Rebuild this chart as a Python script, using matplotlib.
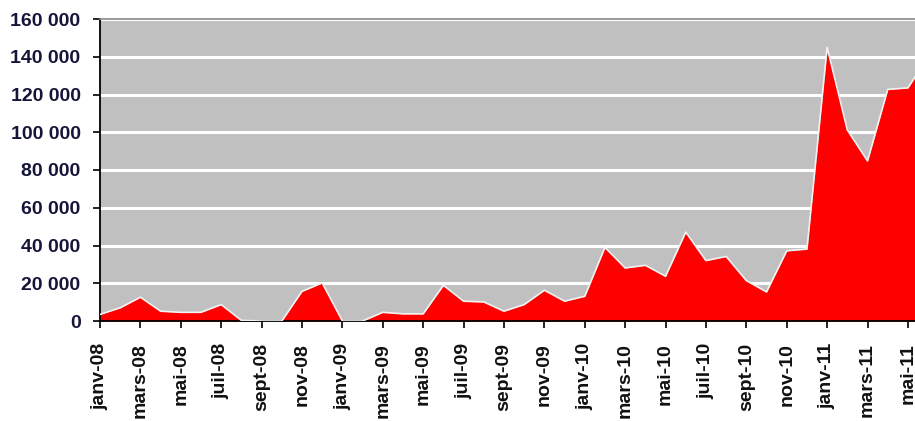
import matplotlib.pyplot as plt
from matplotlib.ticker import FuncFormatter

plt.rcParams['font.family'] = ['Liberation Sans', 'DejaVu Sans']

months = ['janv', 'févr', 'mars', 'avr', 'mai', 'juin',
          'juil', 'août', 'sept', 'oct', 'nov', 'déc']
years = ['08', '09', '10', '11']
periods = [m + '-' + y for y in years for m in months][:42]

# monthly values (janv-08 .. juin-11)
values = [3500, 7000, 12600, 5200, 4600, 4600, 8700, 300, 0, 0, 15700, 20200,
          0, 0, 4600, 3800, 3800, 18900, 10500, 10100, 5200, 8700, 16300, 10500,
          13100, 39000, 28100, 29500, 23700, 47100, 32000, 34200, 21400, 15400, 37200, 38100,
          145000, 101200, 84800, 122700, 123500, 140000]
yticks = [0, 20000, 40000, 60000, 80000, 100000, 120000, 140000, 160000]

x = list(range(len(values)))

fig = plt.figure(figsize=(9.15, 4.21), dpi=100)
ax = fig.add_axes([100 / 915, 100 / 421, 815 / 915, 302 / 421])
ax.set_facecolor('#c0c0c0')
ax.set_axisbelow(True)

ax.fill_between(x, values, 0, color='#ff0000', lw=0, zorder=2)
ax.plot(x, values, color='#f2f2f2', lw=1.2, zorder=3)

ax.set_xlim(0, 40.35)
ax.set_ylim(0, 160000)
ax.set_yticks(yticks)
ax.yaxis.set_major_formatter(FuncFormatter(lambda v, p: '{:,.0f}'.format(v).replace(',', ' ')))
ax.grid(axis='y', color='white', lw=2.2)
ax.grid(axis='x', visible=False)

ax.set_xticks(x[::2])
ax.set_xticklabels(periods[::2], rotation=90, ha='center', va='top')

for lab in ax.get_yticklabels():
    lab.set_fontsize(14)
    lab.set_fontweight('bold')
    lab.set_color('#15153a')
for lab in ax.get_xticklabels():
    lab.set_fontsize(14)
    lab.set_fontweight('bold')
    lab.set_color('#111111')

ax.tick_params(axis='y', length=5, width=1.2, pad=9)
ax.tick_params(axis='x', length=5, width=1.2, pad=11)
ax.spines['left'].set_linewidth(1.3)
ax.spines['bottom'].set_linewidth(1.3)
ax.spines['top'].set_color('#888888')
ax.spines['top'].set_linewidth(1.2)
ax.spines['right'].set_visible(False)

fig.savefig('out.png', dpi=100)
